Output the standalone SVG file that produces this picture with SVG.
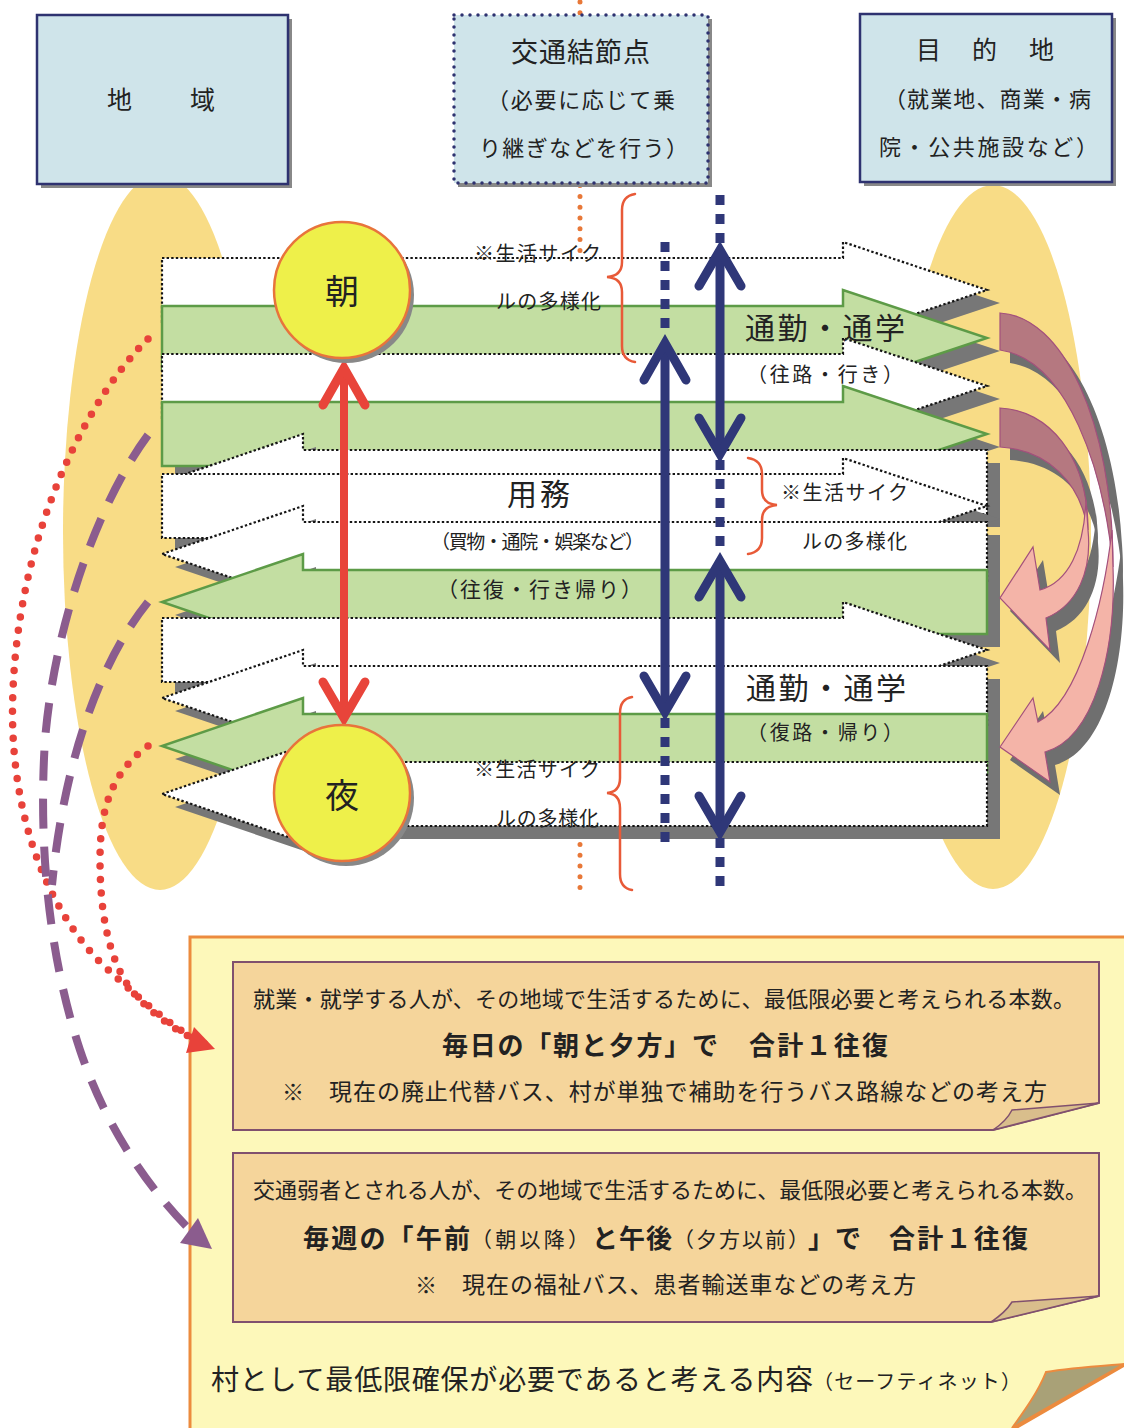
<svg xmlns="http://www.w3.org/2000/svg" width="1124" height="1428" viewBox="0 0 1124 1428">
<defs>
<style>
.t{font-family:"Noto Sans CJK JP","Noto Sans CJK SC",sans-serif;fill:#222;dominant-baseline:central}
.b{font-weight:bold}
.wa{fill:#fff;stroke:#151515;stroke-width:2.2;stroke-dasharray:2.4 2.2}
.ga{fill:#C3DEA2;stroke:#5D9B47;stroke-width:2.5}
.sh{fill:#777}
.bx{fill:#CFE4EA;stroke:#2E3270;stroke-width:2.5}
.nv{stroke:#2F3778;stroke-width:9;fill:none}
.nd{stroke:#2F3778;stroke-width:9;fill:none;stroke-dasharray:10 9}
.chn{fill:none;stroke:#2F3778;stroke-width:9;stroke-linecap:round;stroke-linejoin:miter}
.chr{fill:none;stroke:#E8443A;stroke-width:9;stroke-linecap:round;stroke-linejoin:miter}
.br{fill:none;stroke:#E85A38;stroke-width:2.5;stroke-linecap:round}
.cd{fill:#B57880;stroke:#A3507C;stroke-width:1.2}
.cl{fill:#F4B4A8;stroke:#A3507C;stroke-width:1.2}
.rd{fill:none;stroke:#E8423A;stroke-width:7.5;stroke-linecap:round;stroke-dasharray:0 13.5}
.pd{fill:none;stroke:#8B5C8E;stroke-width:8;stroke-dasharray:30 18}
.ib{fill:#F5D59B;stroke:#80506E;stroke-width:2}
.fd{fill:#D9BE8C;stroke:#80506E;stroke-width:1.5}
</style>
<path id="aR1" d="M162,258 H843 V242 L987,290 L843,338 V322 H162 Z"/>
<path id="aG1" d="M162,306 H843 V290 L987,338 L843,386 V370 H162 Z"/>
<path id="aR2" d="M162,354 H843 V338 L987,386 L843,434 V418 H162 Z"/>
<path id="aG2" d="M162,402 H843 V386 L987,434 L843,482 V466 H162 Z"/>
<path id="aL1" d="M987,450 H303 V434 L162,482 L303,530 V514 H987 Z"/>
<path id="aR3" d="M162,474 H843 V458 L987,506 L843,554 V538 H162 Z"/>
<path id="aL2" d="M987,522 H303 V506 L162,554 L303,602 V586 H987 Z"/>
<path id="aLg1" d="M987,570 H303 V554 L162,602 L303,650 V634 H987 Z"/>
<path id="aR4" d="M162,618 H843 V602 L987,650 L843,698 V682 H162 Z"/>
<path id="aL3" d="M987,666 H303 V650 L162,698 L303,746 V730 H987 Z"/>
<path id="aLg2" d="M987,714 H303 V698 L162,746 L303,794 V778 H987 Z"/>
<path id="aL4" d="M987,762 H303 V746 L162,794 L303,842 V826 H987 Z"/>
<path id="bigD" d="M1000,313 C1062,316 1113,420 1113,567 C1104,470 1068,360 1000,350 Z"/>
<path id="bigL" d="M1112,530 C1104,600 1080,700 1038,722 L1033,698 L1000,747 L1050,782 L1045,752 C1095,738 1116,650 1113,567 Z"/>
<path id="smD" d="M1000,408 C1048,410 1088,455 1088,530 C1080,482 1048,450 1000,447 Z"/>
<path id="smL" d="M1086,500 C1084,550 1068,582 1040,590 L1033,547 L1000,598 L1050,650 L1046,618 C1078,605 1092,570 1088,530 Z"/>
</defs>

<rect width="1124" height="1428" fill="#fff"/>

<g id="regions">
<ellipse cx="160" cy="532" rx="97" ry="358" fill="#F8DC86"/>
<ellipse cx="993" cy="537" rx="98" ry="352" fill="#F8DC86"/>
<line x1="580" y1="2" x2="580" y2="890" stroke="#E87838" stroke-width="5" stroke-linecap="round" stroke-dasharray="0 10.8"/>
</g>

<g id="node-chiiki">
<rect x="41" y="19" width="251" height="169" fill="#888"/>
<rect x="37" y="15" width="251" height="169" class="bx"/>
<text class="t" x="107" y="98" font-size="25">地</text>
<text class="t" x="190" y="98" font-size="25">域</text>
</g>

<g id="node-kotsu">
<rect x="458" y="19" width="254" height="168" fill="#888"/>
<rect x="454" y="15" width="254" height="168" fill="#CFE4EA" stroke="#2E3270" stroke-width="3.5" stroke-linecap="round" stroke-dasharray="0 8"/>
<text class="t" x="511" y="50" font-size="27" textLength="139">交通結節点</text>
<text class="t" x="487" y="98" font-size="22" textLength="188">（必要に応じて乗</text>
<text class="t" x="479" y="146" font-size="22" textLength="209">り継ぎなどを行う）</text>
</g>

<g id="node-mokuteki">
<rect x="864" y="18" width="252" height="168" fill="#888"/>
<rect x="860" y="14" width="252" height="168" class="bx"/>
<text class="t" x="916" y="48" font-size="25">目</text>
<text class="t" x="972" y="48" font-size="25">的</text>
<text class="t" x="1029" y="48" font-size="25">地</text>
<text class="t" x="884" y="97" font-size="22" textLength="207">（就業地、商業・病</text>
<text class="t" x="879" y="145" font-size="22" textLength="219">院・公共施設など）</text>
</g>

<g id="bands">
<use href="#aR1" class="sh" transform="translate(13,13)"/><use href="#aR1" class="wa"/>
<use href="#aG1" class="sh" transform="translate(13,13)"/><use href="#aG1" class="ga"/>
<use href="#aR2" class="sh" transform="translate(13,13)"/><use href="#aR2" class="wa"/>
<use href="#aG2" class="sh" transform="translate(13,13)"/><use href="#aG2" class="ga"/>
<use href="#aL1" class="sh" transform="translate(13,13)"/><use href="#aL1" class="wa"/>
<use href="#aR3" class="sh" transform="translate(13,13)"/><use href="#aR3" class="wa"/>
<use href="#aL2" class="sh" transform="translate(13,13)"/><use href="#aL2" class="wa"/>
<use href="#aLg1" class="sh" transform="translate(13,13)"/><use href="#aLg1" class="ga"/>
<use href="#aR4" class="sh" transform="translate(13,13)"/><use href="#aR4" class="wa"/>
<use href="#aL3" class="sh" transform="translate(13,13)"/><use href="#aL3" class="wa"/>
<use href="#aLg2" class="sh" transform="translate(13,13)"/><use href="#aLg2" class="ga"/>
<use href="#aL4" class="sh" transform="translate(13,13)"/><use href="#aL4" class="wa"/>
</g>

<g id="return-arrows">
<use href="#bigD" fill="#6f6f6f" transform="translate(10,13)"/>
<use href="#bigL" fill="#6f6f6f" transform="translate(10,13)"/>
<use href="#bigD" class="cd"/>
<use href="#bigL" class="cl"/>
<use href="#smD" fill="#6f6f6f" transform="translate(10,13)"/>
<use href="#smL" fill="#6f6f6f" transform="translate(10,13)"/>
<use href="#smD" class="cd"/>
<use href="#smL" class="cl"/>
</g>

<g id="note">
<path d="M190,937 H1126 V1364 L1012,1430 H190 Z" fill="#FDF8BA" stroke="#EC8B3E" stroke-width="3"/>
<path d="M1046,1372 C1070,1368 1100,1366 1124,1364 L1012,1428 C1025,1410 1038,1392 1046,1372 Z" fill="#A9A177" stroke="#EC8B3E" stroke-width="2"/>
<text class="t" x="211" y="1378" font-size="28" textLength="602">村として最低限確保が必要であると考える内容</text>
<text class="t" x="813" y="1380" font-size="20" textLength="208">（セーフティネット）</text>
</g>

<g id="box-daily">
<path d="M233,962 H1099 V1103 L993,1130 H233 Z" class="ib"/>
<path d="M1012,1110 L1099,1103 L993,1130 C1002,1124 1008,1118 1012,1110 Z" class="fd"/>
<text class="t" x="253" y="997" font-size="22" textLength="822">就業・就学する人が、その地域で生活するために、最低限必要と考えられる本数。</text>
<text class="t b" x="442" y="1043" font-size="26" textLength="276">毎日の「朝と夕方」で</text>
<text class="t b" x="749" y="1043" font-size="26" textLength="139">合計１往復</text>
<text class="t" x="282" y="1090" font-size="22">※</text>
<text class="t" x="329" y="1090" font-size="23" textLength="718">現在の廃止代替バス、村が単独で補助を行うバス路線などの考え方</text>
</g>

<g id="box-weekly">
<path d="M233,1153 H1099 V1296 L991,1322 H233 Z" class="ib"/>
<path d="M1012,1302 L1099,1296 L991,1322 C1000,1316 1007,1310 1012,1302 Z" class="fd"/>
<text class="t" x="253" y="1188" font-size="22" textLength="834">交通弱者とされる人が、その地域で生活するために、最低限必要と考えられる本数。</text>
<text class="t b" x="303" y="1236" font-size="26" textLength="167">毎週の「午前</text>
<text class="t" x="471" y="1238" font-size="21" textLength="118">（朝以降）</text>
<text class="t b" x="592" y="1236" font-size="26" textLength="80">と午後</text>
<text class="t" x="673" y="1238" font-size="21" textLength="136">（夕方以前）</text>
<text class="t b" x="808" y="1236" font-size="26" textLength="53">」で</text>
<text class="t b" x="889" y="1236" font-size="26" textLength="139">合計１往復</text>
<text class="t" x="415" y="1283" font-size="22">※</text>
<text class="t" x="462" y="1283" font-size="23" textLength="454">現在の福祉バス、患者輸送車などの考え方</text>
</g>

<g id="connectors">
<path class="rd" d="M148,339 C95,390 20,520 13,690 C8,800 40,900 100,962 C140,1000 175,1030 205,1044"/>
<path class="rd" d="M148,746 C108,775 100,815 100,860 C100,930 115,975 140,1000 C160,1020 180,1033 205,1044"/>
<polygon points="215,1049 194,1027 186,1053" fill="#E8423A"/>
<path class="pd" d="M148,435 C100,500 55,620 45,740 C38,850 50,960 80,1050 C110,1140 160,1200 192,1232"/>
<path class="pd" d="M148,602 C105,655 65,750 52,885"/>
<polygon points="212,1249 198,1218 180,1243" fill="#8B5C8E"/>

<line x1="344" y1="372" x2="344" y2="714" stroke="#E8443A" stroke-width="8"/>
<polyline class="chr" points="323,405 344,368 365,405"/>
<polyline class="chr" points="323,682 344,718 365,682"/>

<line class="nd" x1="665" y1="242" x2="665" y2="336"/>
<line class="nv" x1="665" y1="346" x2="665" y2="706"/>
<polyline class="chn" points="644,380 665,343 686,380"/>
<polyline class="chn" points="644,676 665,712 686,676"/>
<line class="nd" x1="665" y1="718" x2="665" y2="842"/>

<line class="nd" x1="720" y1="195" x2="720" y2="244"/>
<line class="nv" x1="720" y1="254" x2="720" y2="448"/>
<polyline class="chn" points="699,286 720,250 741,286"/>
<polyline class="chn" points="699,418 720,454 741,418"/>
<line class="nd" x1="720" y1="460" x2="720" y2="554"/>
<line class="nv" x1="720" y1="564" x2="720" y2="826"/>
<polyline class="chn" points="699,597 720,561 741,597"/>
<polyline class="chn" points="699,796 720,832 741,796"/>
<line class="nd" x1="720" y1="838" x2="720" y2="888"/>

<path class="br" d="M635,194 Q622,196 622,210 L622,262 Q622,276 607,277 Q622,278 622,292 L622,346 Q622,360 635,362"/>
<path class="br" d="M748,458 Q762,460 762,474 L762,490 Q762,504 777,505 Q762,506 762,520 L762,538 Q762,552 748,554"/>
<path class="br" d="M632,697 Q620,699 620,713 L620,778 Q620,792 607,793 Q620,794 620,808 L620,874 Q620,888 632,890"/>
</g>

<g id="node-asa">
<circle cx="346" cy="295" r="68" fill="#888"/>
<circle cx="342" cy="290" r="68" fill="#EEF04A" stroke="#E8743C" stroke-width="2.5"/>
<text class="t" x="342" y="289" font-size="34" text-anchor="middle">朝</text>
</g>
<g id="node-yoru">
<circle cx="346" cy="798" r="68" fill="#888"/>
<circle cx="342" cy="793" r="68" fill="#EEF04A" stroke="#E8743C" stroke-width="2.5"/>
<text class="t" x="342" y="793" font-size="34" text-anchor="middle">夜</text>
</g>

<g id="labels">
<text class="t" x="474" y="252" font-size="20" textLength="127">※生活サイク</text>
<text class="t" x="496" y="300" font-size="20" textLength="105">ルの多様化</text>
<text class="t" x="745" y="326" font-size="30" textLength="160">通勤・通学</text>
<text class="t" x="747" y="373" font-size="20" textLength="156">（往路・行き）</text>
<text class="t" x="507" y="492" font-size="30" textLength="63">用務</text>
<text class="t" x="431" y="540" font-size="19" textLength="213">（買物・通院・娯楽など）</text>
<text class="t" x="437" y="588" font-size="21" textLength="205">（往復・行き帰り）</text>
<text class="t" x="781" y="491" font-size="20" textLength="127">※生活サイク</text>
<text class="t" x="802" y="540" font-size="20" textLength="105">ルの多様化</text>
<text class="t" x="746" y="686" font-size="30" textLength="160">通勤・通学</text>
<text class="t" x="747" y="731" font-size="20" textLength="156">（復路・帰り）</text>
<text class="t" x="474" y="768" font-size="20" textLength="126">※生活サイク</text>
<text class="t" x="496" y="817" font-size="20" textLength="103">ルの多様化</text>
</g>
</svg>
